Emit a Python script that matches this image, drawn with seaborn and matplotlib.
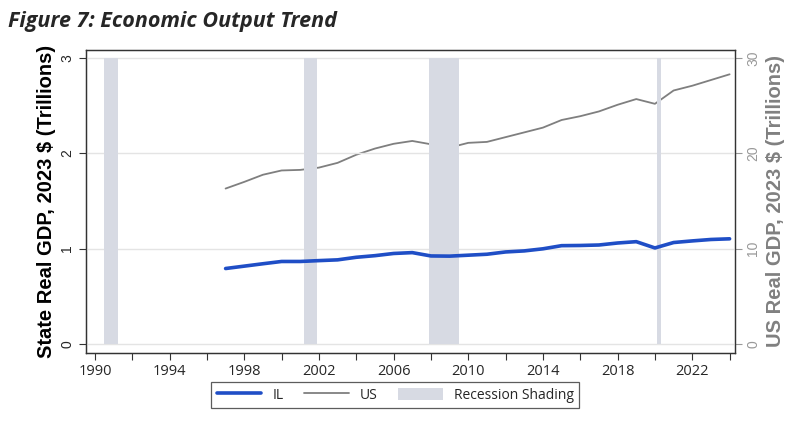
import numpy as np
import pandas as pd
import seaborn as sns
import matplotlib.pyplot as plt
from matplotlib.lines import Line2D
from matplotlib.patches import Patch

# Datos
years = list(range(1997, 2025))
il_gdp = [0.79, 0.815, 0.84, 0.864, 0.864, 0.873, 0.881, 0.908, 0.925, 0.948, 0.957,
          0.922, 0.92, 0.93, 0.94, 0.964, 0.975, 0.997, 1.03, 1.032, 1.037, 1.058,
          1.072, 1.006, 1.063, 1.08, 1.095, 1.102]
us_gdp = [16.3, 17.0, 17.75, 18.2, 18.26, 18.5, 19.0, 19.85, 20.5, 21.0, 21.3,
          20.95, 20.6, 21.1, 21.2, 21.7, 22.2, 22.7, 23.5, 23.9, 24.4, 25.1,
          25.7, 25.2, 26.6, 27.1, 27.7, 28.3]
rec_start = [1990.5, 2001.2, 2007.9, 2020.1]
rec_end = [1991.25, 2001.9, 2009.5, 2020.35]

df = pd.DataFrame({'year': years, 'IL': il_gdp, 'US': us_gdp})

sns.set_style('white')
plt.rcParams['font.family'] = ['Liberation Sans', 'DejaVu Sans']

fig = plt.figure(figsize=(8, 4.24), dpi=100)
ax = fig.add_axes([0.107, 0.168, 0.812, 0.714])
ax2 = ax.twinx()

shade = '#d7dae3'
for s, e in zip(rec_start, rec_end):
    ax.fill_between([s, e], 0, 3, color=shade, lw=0, zorder=1)

sns.lineplot(data=df, x='year', y='IL', ax=ax, color='#1f4ec6', lw=2.6, zorder=3)
sns.lineplot(data=df, x='year', y='US', ax=ax2, color='#7f7f7f', lw=1.3, zorder=3)

ax.set_xlim(1989.5, 2024.3)
ax.set_ylim(-0.095, 3.085)
ax2.set_ylim(-0.95, 30.85)
ax.set_zorder(ax2.get_zorder() + 1)
ax.patch.set_visible(False)

ax.set_yticks([0, 1, 2, 3])
ax2.set_yticks([0, 10, 20, 30])
ax.set_xticks(list(range(1990, 2025, 4)))
ax.set_xticks(list(range(1992, 2025, 4)), minor=True)
ax.yaxis.grid(True, color='#e4e4e4', lw=1)
ax.set_axisbelow(True)

tick_font = 'Open Sans'
ax.tick_params(axis='x', which='both', direction='out', length=5, width=0.8,
               color='#333333', labelsize=10.5, pad=3, bottom=True)
ax.tick_params(axis='y', direction='out', length=5, width=0.8, color='#333333',
               labelsize=10, pad=3, left=True)
ax2.tick_params(axis='y', direction='out', length=5, width=0.8, color='#999999',
                labelsize=10, pad=3, right=True, labelcolor='#999999')
for lab in ax.get_xticklabels():
    lab.set_family(tick_font)
for lab in ax.get_yticklabels():
    lab.set_rotation(90)
    lab.set_va('center')
for lab in ax2.get_yticklabels():
    lab.set_rotation(90)
    lab.set_va('center')

for a in (ax, ax2):
    for sp in a.spines.values():
        sp.set_color('#333333')
        sp.set_linewidth(0.9)
ax2.spines['right'].set_color('#555555')

ax.set_xlabel('')
ax.set_ylabel('State Real GDP, 2023 $ (Trillions)', fontsize=14.5, fontweight='bold',
              color='black', labelpad=3)
ax2.set_ylabel('US Real GDP, 2023 $ (Trillions)', fontsize=14.5, fontweight='bold',
               color='#808080', labelpad=4)

fig.text(0.01, 0.95, 'Figure 7: Economic Output Trend', fontsize=15.5,
         fontstyle='italic', fontweight='bold', family=['Open Sans', 'DejaVu Sans'],
         va='center', ha='left')

handles = [Line2D([0], [0], color='#1f4ec6', lw=2.6),
           Line2D([0], [0], color='#7f7f7f', lw=1.3),
           Patch(facecolor=shade, edgecolor='none')]
leg = fig.legend(handles, ['IL', 'US', 'Recession Shading'], ncol=3,
                 loc='center', bbox_to_anchor=(0.494, 0.068), frameon=True,
                 fancybox=False, edgecolor='#333333',
                 handlelength=3.2, handleheight=1.0, columnspacing=1.5,
                 borderpad=0.4, prop={'family': tick_font, 'size': 10})
leg.get_frame().set_linewidth(0.9)

fig.savefig('out.png', dpi=100)
